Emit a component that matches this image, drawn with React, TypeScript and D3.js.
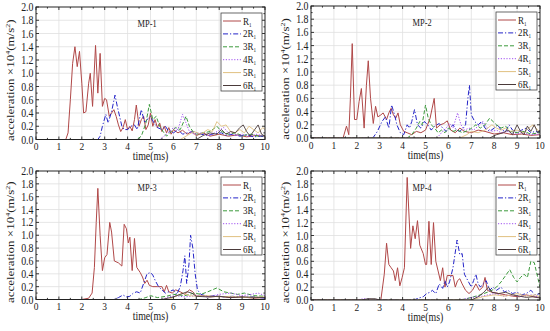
import React, { useRef, useEffect } from "react";
import * as d3 from "d3";

type Pt = [number, number];

// legend / series styling
const legendPrefix = ["", "2", "3", "4", "5", "6"];
const seriesColors = ["#b04848", "#2424c8", "#3c9a3c", "#a050f0", "#e0c080", "#4a3a3a"];
const seriesDash: (string | null)[] = [null, "5,2,1.2,2", "4,2", "1.2,1.6", null, null];
const panelTitles = ["MP-1", "MP-2", "MP-3", "MP-4"];

const xTickValues = [0, 1, 2, 3, 4, 5, 6, 7, 8, 9, 10];
const yTickValues = [0, 0.2, 0.4, 0.6, 0.8, 1.0, 1.2, 1.4, 1.6, 1.8, 2.0];

// ---- MP-1 ----
const mp1R1: Pt[] = [[0,0],[1.3,0],[1.4,0.1],[1.5,0.6],[1.6,1.15],[1.7,1.4],[1.8,1.1],[1.9,1.33],[2.0,0.85],[2.08,0.4],[2.18,0.42],[2.3,0.85],[2.37,1.0],[2.47,0.5],[2.6,1.42],[2.7,0.7],[2.8,1.3],[2.9,0.5],[3.0,0.62],[3.08,0.6],[3.2,0.35],[3.3,0.4],[3.4,0.45],[3.5,0.35],[3.6,0.22],[3.7,0.12],[3.8,0.18],[3.9,0.3],[4.0,0.15],[4.1,0.2],[4.2,0.13],[4.3,0.3],[4.38,0.52],[4.5,0.2],[4.6,0.3],[4.7,0.35],[4.8,0.15],[4.9,0.22],[5.0,0.4],[5.1,0.2],[5.2,0.3],[5.3,0.18],[5.4,0.25],[5.5,0.12],[5.6,0.2],[5.7,0.1],[5.8,0.18],[5.9,0.08],[6.0,0.15],[6.2,0.1],[6.4,0.14],[6.6,0.08],[6.8,0.12],[7.0,0.06],[7.3,0.1],[7.6,0.05],[8.0,0.08],[8.4,0.05],[8.8,0.07],[9.2,0.04],[9.6,0.06],[10,0.05]];
const mp1R2: Pt[] = [[0,0],[2.7,0],[2.8,0.05],[2.9,0.2],[3.05,0.38],[3.15,0.25],[3.3,0.42],[3.45,0.67],[3.55,0.5],[3.65,0.35],[3.75,0.2],[3.85,0.15],[4.0,0.15],[4.15,0.2],[4.3,0.22],[4.42,0.15],[4.6,0.45],[4.75,0.25],[4.85,0.3],[5.0,0.35],[5.15,0.25],[5.3,0.18],[5.5,0.15],[5.65,0.2],[5.8,0.12],[6.0,0.1],[6.2,0.15],[6.4,0.08],[6.6,0.1],[6.9,0.12],[7.2,0.08],[7.5,0.06],[7.8,0.09],[8.1,0.1],[8.3,0.06],[8.6,0.08],[8.9,0.05],[9.2,0.07],[9.5,0.04],[9.8,0.05],[10,0.04]];
const mp1R3: Pt[] = [[0,0],[4.4,0],[4.6,0.05],[4.8,0.25],[4.95,0.53],[5.1,0.3],[5.25,0.35],[5.4,0.2],[5.55,0.12],[5.7,0.05],[5.9,0.12],[6.1,0.18],[6.3,0.15],[6.55,0.35],[6.7,0.2],[6.85,0.12],[7.0,0.08],[7.3,0.1],[7.6,0.12],[7.9,0.2],[8.1,0.12],[8.4,0.08],[8.7,0.1],[9.0,0.06],[9.4,0.08],[9.7,0.05],[10,0.06]];
const mp1R4: Pt[] = [[0,0],[5.4,0],[5.7,0.08],[6.0,0.18],[6.2,0.15],[6.4,0.38],[6.55,0.25],[6.7,0.12],[6.9,0.08],[7.2,0.1],[7.5,0.06],[7.8,0.1],[8.2,0.18],[8.4,0.1],[8.7,0.06],[9.0,0.08],[9.3,0.05],[9.6,0.08],[10,0.05]];
const mp1R5: Pt[] = [[0,0],[6.3,0],[6.6,0.06],[6.9,0.12],[7.2,0.08],[7.5,0.15],[7.7,0.12],[7.9,0.27],[8.1,0.2],[8.3,0.22],[8.5,0.12],[8.7,0.1],[8.9,0.15],[9.1,0.1],[9.3,0.2],[9.5,0.15],[9.7,0.1],[9.9,0.18],[10,0.15]];
const mp1R6: Pt[] = [[0,0],[7.0,0],[7.3,0.06],[7.6,0.1],[7.9,0.08],[8.1,0.15],[8.3,0.08],[8.5,0.12],[8.7,0.1],[8.9,0.18],[9.05,0.22],[9.2,0.12],[9.35,0.05],[9.55,0.15],[9.7,0.22],[9.85,0.08],[10,0.05]];

// ---- MP-2 ----
const mp2R1: Pt[] = [[0,0],[1.4,0],[1.55,0.18],[1.65,0.05],[1.72,0.6],[1.8,1.43],[1.9,0.28],[2.0,0.28],[2.1,0.55],[2.2,0.75],[2.32,0.15],[2.42,0.8],[2.5,1.17],[2.6,0.6],[2.72,0.22],[2.82,0.48],[2.92,0.32],[3.05,0.35],[3.15,0.38],[3.3,0.28],[3.4,0.38],[3.5,0.45],[3.6,0.35],[3.7,0.3],[3.8,0.38],[3.9,0.2],[4.05,0.1],[4.2,0.08],[4.4,0.05],[4.6,0.1],[4.8,0.08],[5.0,0.12],[5.2,0.3],[5.38,0.6],[5.48,0.15],[5.65,0.2],[5.8,0.22],[5.95,0.26],[6.1,0.12],[6.3,0.08],[6.5,0.15],[6.7,0.1],[7.0,0.08],[7.3,0.12],[7.6,0.1],[8.0,0.06],[8.4,0.08],[8.8,0.05],[9.2,0.06],[9.6,0.04],[10,0.05]];
const mp2R2: Pt[] = [[0,0],[2.7,0],[2.9,0.1],[3.1,0.25],[3.25,0.32],[3.4,0.15],[3.52,0.5],[3.65,0.35],[3.75,0.2],[3.9,0.08],[4.05,0.05],[4.2,0.2],[4.3,0.15],[4.4,0.25],[4.52,0.43],[4.65,0.2],[4.8,0.15],[4.95,0.25],[5.1,0.2],[5.25,0.12],[5.4,0.18],[5.6,0.22],[5.75,0.15],[5.9,0.1],[6.05,0.15],[6.2,0.2],[6.35,0.12],[6.5,0.1],[6.65,0.15],[6.75,0.2],[6.85,0.6],[6.92,0.8],[7.0,0.35],[7.15,0.25],[7.3,0.2],[7.45,0.25],[7.6,0.15],[7.8,0.1],[8.0,0.15],[8.15,0.2],[8.3,0.12],[8.5,0.1],[8.65,0.2],[8.8,0.12],[9.0,0.08],[9.2,0.12],[9.4,0.15],[9.6,0.08],[9.8,0.1],[10,0.08]];
const mp2R3: Pt[] = [[0,0],[4.2,0],[4.4,0.05],[4.6,0.15],[4.75,0.25],[4.85,0.2],[5.0,0.5],[5.12,0.3],[5.25,0.2],[5.4,0.15],[5.55,0.08],[5.7,0.12],[5.85,0.08],[6.0,0.15],[6.2,0.1],[6.4,0.12],[6.6,0.08],[6.9,0.12],[7.2,0.2],[7.4,0.15],[7.6,0.2],[7.8,0.3],[7.95,0.25],[8.1,0.2],[8.3,0.15],[8.5,0.18],[8.7,0.1],[9.0,0.08],[9.3,0.1],[9.6,0.06],[10,0.08]];
const mp2R4: Pt[] = [[0,0],[5.5,0],[5.7,0.08],[5.9,0.15],[6.05,0.22],[6.2,0.15],[6.4,0.38],[6.55,0.2],[6.7,0.12],[6.9,0.15],[7.1,0.12],[7.3,0.18],[7.5,0.25],[7.7,0.15],[7.9,0.1],[8.1,0.12],[8.3,0.08],[8.6,0.1],[8.9,0.06],[9.2,0.08],[9.6,0.05],[10,0.06]];
const mp2R5: Pt[] = [[0,0],[6.5,0],[6.8,0.05],[7.0,0.1],[7.3,0.08],[7.6,0.12],[7.9,0.2],[8.1,0.15],[8.3,0.12],[8.5,0.15],[8.7,0.1],[9.0,0.12],[9.3,0.08],[9.5,0.15],[9.7,0.2],[9.9,0.12],[10,0.1]];
const mp2R6: Pt[] = [[0,0],[7.8,0],[8.1,0.05],[8.4,0.08],[8.6,0.12],[8.8,0.05],[9.0,0.2],[9.15,0.1],[9.3,0.05],[9.45,0.18],[9.6,0.1],[9.75,0.2],[9.9,0.08],[10,0.12]];

// ---- MP-3 ----
const mp3R1: Pt[] = [[0,0],[2.0,0],[2.3,0.02],[2.45,0.1],[2.55,0.5],[2.63,1.2],[2.7,1.73],[2.8,1.0],[2.9,0.45],[3.0,0.65],[3.1,0.7],[3.22,1.2],[3.3,1.05],[3.42,0.6],[3.6,0.57],[3.75,0.52],[3.85,1.17],[3.95,1.1],[4.03,0.88],[4.1,0.97],[4.2,0.45],[4.3,0.95],[4.4,0.5],[4.55,0.42],[4.65,0.35],[4.75,0.25],[4.85,0.3],[4.95,0.22],[5.1,0.2],[5.3,0.2],[5.5,0.2],[5.6,0.12],[5.7,0.22],[5.8,0.12],[5.95,0.1],[6.1,0.15],[6.3,0.12],[6.5,0.08],[6.7,0.15],[6.85,0.12],[7.0,0.05],[7.3,0.06],[7.6,0.04],[8.0,0.05],[8.5,0.03],[9.0,0.04],[9.5,0.02],[10,0.03]];
const mp3R2: Pt[] = [[0,0],[3.4,0],[3.6,0.03],[3.8,0.07],[3.95,0.04],[4.1,0.05],[4.25,0.1],[4.4,0.12],[4.55,0.1],[4.7,0.25],[4.85,0.4],[5.0,0.42],[5.1,0.38],[5.2,0.3],[5.35,0.2],[5.5,0.15],[5.65,0.1],[5.8,0.12],[6.0,0.15],[6.15,0.08],[6.3,0.2],[6.42,0.45],[6.5,0.68],[6.58,0.25],[6.68,0.55],[6.75,1.0],[6.85,0.8],[6.95,0.4],[7.05,0.15],[7.2,0.08],[7.5,0.05],[7.8,0.06],[8.2,0.04],[8.6,0.05],[9.0,0.03],[9.5,0.04],[10,0.02]];
const mp3R3: Pt[] = [[0,0],[4.5,0],[4.8,0.03],[5.0,0.06],[5.3,0.03],[5.7,0.05],[6.0,0.08],[6.5,0.06],[6.9,0.1],[7.2,0.08],[7.5,0.12],[7.9,0.18],[8.2,0.12],[8.5,0.1],[8.8,0.08],[9.1,0.1],[9.5,0.06],[10,0.05]];
const mp3R4: Pt[] = [[0,0],[5.5,0],[5.8,0.04],[6.1,0.06],[6.5,0.04],[7.0,0.06],[7.5,0.04],[8.0,0.08],[8.5,0.1],[9.0,0.06],[9.4,0.08],[9.7,0.1],[10,0.06]];
const mp3R5: Pt[] = [[0,0],[5.8,0],[6.1,0.05],[6.4,0.1],[6.7,0.06],[7.0,0.05],[7.5,0.06],[8.0,0.04],[8.5,0.05],[9.0,0.03],[10,0.04]];
const mp3R6: Pt[] = [[0,0],[5.5,0],[6.0,0.04],[6.3,0.08],[6.6,0.12],[6.8,0.1],[7.0,0.05],[7.5,0.04],[8.0,0.05],[8.5,0.03],[9.0,0.04],[10,0.03]];

// ---- MP-4 ----
const mp4R1: Pt[] = [[0,0],[3.05,0],[3.2,0.4],[3.3,0.88],[3.4,0.55],[3.5,0.5],[3.6,0.45],[3.68,0.3],[3.78,0.5],[3.88,0.22],[3.98,0.35],[4.08,0.5],[4.2,1.9],[4.35,0.8],[4.45,1.15],[4.55,0.95],[4.65,1.23],[4.75,0.85],[4.9,0.72],[5.0,0.55],[5.05,0.55],[5.15,1.22],[5.25,0.55],[5.35,1.2],[5.45,0.6],[5.55,0.45],[5.65,0.3],[5.75,0.5],[5.85,0.2],[5.95,0.38],[6.1,0.38],[6.2,0.38],[6.3,0.2],[6.4,0.3],[6.5,0.33],[6.6,0.25],[6.75,0.15],[6.9,0.1],[7.05,0.15],[7.2,0.25],[7.35,0.15],[7.5,0.2],[7.6,0.35],[7.7,0.15],[7.9,0.12],[8.2,0.1],[8.5,0.08],[8.8,0.06],[9.1,0.05],[9.4,0.08],[9.7,0.05],[10,0.04]];
const mp4R2: Pt[] = [[0,0],[4.5,0],[4.7,0.03],[4.9,0.05],[5.05,0.1],[5.2,0.12],[5.3,0.15],[5.45,0.1],[5.6,0.25],[5.75,0.18],[5.85,0.3],[5.95,0.2],[6.05,0.28],[6.2,0.5],[6.38,0.93],[6.5,0.7],[6.6,0.72],[6.7,0.4],[6.85,0.3],[7.0,0.2],[7.1,0.3],[7.2,0.4],[7.3,0.25],[7.4,0.2],[7.5,0.25],[7.65,0.3],[7.8,0.15],[7.95,0.2],[8.1,0.15],[8.3,0.2],[8.45,0.12],[8.6,0.15],[8.8,0.1],[9.0,0.12],[9.2,0.08],[9.4,0.1],[9.6,0.15],[9.8,0.08],[10,0.1]];
const mp4R3: Pt[] = [[0,0],[6.5,0],[6.8,0.02],[7.1,0.05],[7.4,0.08],[7.7,0.12],[7.9,0.15],[8.1,0.2],[8.3,0.28],[8.5,0.38],[8.68,0.47],[8.85,0.35],[9.0,0.28],[9.15,0.35],[9.3,0.4],[9.45,0.35],[9.6,0.6],[9.75,0.58],[9.9,0.35],[10,0.2]];
const mp4R4: Pt[] = [[0,0],[2.0,0],[2.3,0.02],[2.6,0.01],[3.0,0],[6.5,0],[7.0,0.04],[7.5,0.06],[8.0,0.1],[8.4,0.06],[8.8,0.08],[9.2,0.05],[9.6,0.08],[10,0.04]];
const mp4R5: Pt[] = [[0,0],[7.0,0],[7.5,0.05],[8.0,0.08],[8.5,0.06],[9.0,0.1],[9.4,0.06],[9.8,0.08],[10,0.05]];
const mp4R6: Pt[] = [[0,0],[2.2,0],[2.5,0.02],[2.8,0.02],[3.0,0],[7.0,0],[7.3,0.05],[7.55,0.12],[7.75,0.2],[7.9,0.12],[8.2,0.1],[8.5,0.12],[8.8,0.08],[9.1,0.06],[9.4,0.04],[9.7,0.05],[10,0.03]];

const panelSeries: Pt[][][] = [
  [mp1R1, mp1R2, mp1R3, mp1R4, mp1R5, mp1R6],
  [mp2R1, mp2R2, mp2R3, mp2R4, mp2R5, mp2R6],
  [mp3R1, mp3R2, mp3R3, mp3R4, mp3R5, mp3R6],
  [mp4R1, mp4R2, mp4R3, mp4R4, mp4R5, mp4R6],
];

// plot frames (pixels)
const frames = [
  { left: 36, right: 265, top: 7, bottom: 139.5 },
  { left: 311, right: 540, top: 6, bottom: 138 },
  { left: 36, right: 265, top: 171, bottom: 299.5 },
  { left: 311, right: 540, top: 171, bottom: 300 },
];

const FONT = "'Liberation Serif', 'Times New Roman', serif";

const App: React.FC = () => {
  const svgRef = useRef<SVGSVGElement>(null);

  useEffect(() => {
    if (!svgRef.current) return;
    const svg = d3.select(svgRef.current);
    svg.selectAll("*").remove();

    svg.append("rect").attr("width", 550).attr("height", 331).attr("fill", "#fff");

    // squashed text helper (the figure is a bit compressed horizontally)
    const text = (
      g: d3.Selection<SVGGElement, unknown, null, undefined>,
      x: number,
      y: number,
      s: string,
      size: number,
      anchor: string,
      sx = 0.86
    ) =>
      g
        .append("text")
        .attr("transform", `translate(${x},${y}) scale(${sx},1)`)
        .style("font-family", FONT)
        .attr("font-size", size)
        .attr("text-anchor", anchor)
        .attr("fill", "#222")
        .text(s);

    frames.forEach((f, pi) => {
      const g = svg.append("g");
      const x = d3.scaleLinear().domain([0, 10]).range([f.left, f.right]);
      const y = d3.scaleLinear().domain([0, 2]).range([f.bottom, f.top]);

      // grid
      g.selectAll(".gx")
        .data(xTickValues.slice(1, -1))
        .enter()
        .append("line")
        .attr("x1", (d) => x(d))
        .attr("x2", (d) => x(d))
        .attr("y1", f.top)
        .attr("y2", f.bottom)
        .attr("stroke", "#e0e0e0")
        .attr("stroke-width", 0.8);
      g.selectAll(".gy")
        .data(yTickValues.slice(1, -1))
        .enter()
        .append("line")
        .attr("y1", (d) => y(d))
        .attr("y2", (d) => y(d))
        .attr("x1", f.left)
        .attr("x2", f.right)
        .attr("stroke", "#e0e0e0")
        .attr("stroke-width", 0.8);

      // clip
      const clipId = `clip${pi}`;
      svg
        .append("clipPath")
        .attr("id", clipId)
        .append("rect")
        .attr("x", f.left)
        .attr("y", f.top)
        .attr("width", f.right - f.left)
        .attr("height", f.bottom - f.top);

      const line = d3
        .line<Pt>()
        .x((d) => x(d[0]))
        .y((d) => y(d[1]));

      const lg = g.append("g").attr("clip-path", `url(#${clipId})`);
      panelSeries[pi].forEach((s, si) => {
        lg.append("path")
          .attr("d", line(s))
          .attr("fill", "none")
          .attr("stroke", seriesColors[si])
          .attr("stroke-width", si >= 4 ? 0.9 : 1)
          .attr("stroke-dasharray", seriesDash[si] ?? null)
          .attr("stroke-linejoin", "round");
      });

      // frame
      g.append("rect")
        .attr("x", f.left)
        .attr("y", f.top)
        .attr("width", f.right - f.left)
        .attr("height", f.bottom - f.top)
        .attr("fill", "none")
        .attr("stroke", "#222")
        .attr("stroke-width", 1);

      // ticks (inward, all sides)
      const tk = g.append("g").attr("stroke", "#222").attr("stroke-width", 0.9);
      const xMinor = d3.range(0.5, 10, 1);
      const yMinor = d3.range(0.1, 2, 0.2);
      xTickValues.forEach((v) => {
        tk.append("line").attr("x1", x(v)).attr("x2", x(v)).attr("y1", f.bottom).attr("y2", f.bottom - 3);
        tk.append("line").attr("x1", x(v)).attr("x2", x(v)).attr("y1", f.top).attr("y2", f.top + 3);
      });
      xMinor.forEach((v) => {
        tk.append("line").attr("x1", x(v)).attr("x2", x(v)).attr("y1", f.bottom).attr("y2", f.bottom - 1.6);
        tk.append("line").attr("x1", x(v)).attr("x2", x(v)).attr("y1", f.top).attr("y2", f.top + 1.6);
      });
      yTickValues.forEach((v) => {
        tk.append("line").attr("x1", f.left).attr("x2", f.left + 3).attr("y1", y(v)).attr("y2", y(v));
        tk.append("line").attr("x1", f.right).attr("x2", f.right - 3).attr("y1", y(v)).attr("y2", y(v));
      });
      yMinor.forEach((v) => {
        tk.append("line").attr("x1", f.left).attr("x2", f.left + 1.6).attr("y1", y(v)).attr("y2", y(v));
        tk.append("line").attr("x1", f.right).attr("x2", f.right - 1.6).attr("y1", y(v)).attr("y2", y(v));
      });

      // tick labels
      xTickValues.forEach((v) => text(g, x(v), f.bottom + 10.5, String(v), 11, "middle"));
      yTickValues.forEach((v) => text(g, f.left - 2.5, y(v) + 4, v.toFixed(1), 11.5, "end"));

      // axis labels
      text(g, (f.left + f.right) / 2, f.bottom + 20.5, "time(ms)", 11.5, "middle", 0.86);
      const yl = g
        .append("text")
        .attr("transform", `translate(${f.left - 22},${(f.top + f.bottom) / 2 + 7}) rotate(-90) scale(1,0.86)`)
        .style("font-family", FONT)
        .attr("font-size", 13)
        .attr("text-anchor", "middle")
        .attr("fill", "#222");
      yl.append("tspan").text("acceleration ×10");
      yl.append("tspan").attr("font-size", 8).attr("dy", -5).text("4");
      yl.append("tspan").attr("dy", 5).text("(m/s");
      yl.append("tspan").attr("font-size", 8).attr("dy", -5).text("2");
      yl.append("tspan").attr("dy", 5).text(")");

      // title
      text(g, x(4.85), f.top + 20, panelTitles[pi], 10.5, "middle", 0.8);

      // legend
      const bx = f.right - 44;
      const by = f.top + 6;
      g.append("rect")
        .attr("x", bx)
        .attr("y", by)
        .attr("width", 41)
        .attr("height", 78)
        .attr("fill", "#fff")
        .attr("stroke", "#444")
        .attr("stroke-width", 0.8);
      seriesColors.forEach((c, si) => {
        const ry = by + 8 + si * 12.9;
        g.append("line")
          .attr("x1", bx + 2)
          .attr("x2", bx + 20)
          .attr("y1", ry)
          .attr("y2", ry)
          .attr("stroke", c)
          .attr("stroke-width", 1)
          .attr("stroke-dasharray", seriesDash[si] ?? null);
        const t = g
          .append("text")
          .attr("transform", `translate(${bx + 22},${ry + 3.5}) scale(0.86,1)`)
          .style("font-family", FONT)
          .attr("font-size", 10.5)
          .attr("fill", "#222");
        t.append("tspan").text(legendPrefix[si] + "R");
        t.append("tspan").attr("font-size", 6).attr("dy", 2).text("1");
      });
    });
  }, []);

  return (
    <svg
      ref={svgRef}
      width={550}
      height={331}
      style={{ position: "absolute", left: 0, top: 0 }}
    ></svg>
  );
};

export default App;
